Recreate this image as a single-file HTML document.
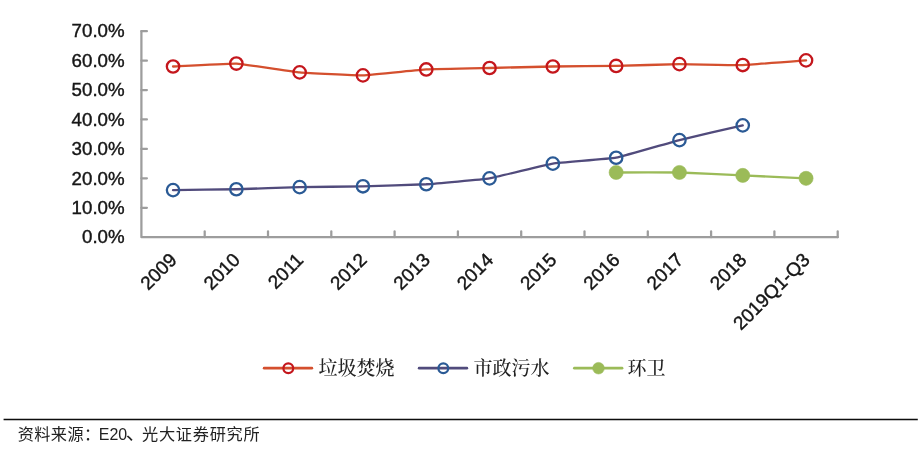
<!DOCTYPE html>
<html lang="zh-CN">
<head>
<meta charset="utf-8">
<title>毛利率对比</title>
<style>
html,body{margin:0;padding:0;background:#fff;}
body{width:924px;height:455px;overflow:hidden;}
svg{display:block;}
.lat{font-family:"Liberation Sans",sans-serif;font-size:18.70px;fill:#141414;stroke:#141414;stroke-width:0.4px;}
.xl{font-size:18.95px;}
.leg{font-family:"Liberation Serif","Noto Serif CJK SC",serif;font-size:19px;font-weight:500;fill:#222;}
.src{font-family:"Liberation Sans","Noto Sans CJK SC",sans-serif;font-size:16.2px;letter-spacing:0.4px;fill:#222;}
.src2{font-family:"Liberation Sans","Noto Sans CJK SC",sans-serif;font-size:16.2px;fill:#222;}
</style>
</head>
<body>
<svg width="924" height="455" viewBox="0 0 924 455">
<rect x="0" y="0" width="924" height="455" fill="#ffffff"/>
<defs><filter id="soft" x="0" y="0" width="924" height="455" filterUnits="userSpaceOnUse"><feGaussianBlur stdDeviation="0.38"/></filter></defs>
<g filter="url(#soft)">
<g fill="none" stroke="#9d9d9d" stroke-width="2.25" stroke-linejoin="round" stroke-linecap="round">
<path d="M141.40 31.20 L141.40 237.20 L837.70 237.20"/>
<path d="M141.40 207.77 h5.5"/>
<path d="M141.40 178.34 h5.5"/>
<path d="M141.40 148.91 h5.5"/>
<path d="M141.40 119.49 h5.5"/>
<path d="M141.40 90.06 h5.5"/>
<path d="M141.40 60.63 h5.5"/>
<path d="M141.40 31.20 h5.5"/>
<path d="M204.70 237.20 v-5.8"/>
<path d="M268.00 237.20 v-5.8"/>
<path d="M331.30 237.20 v-5.8"/>
<path d="M394.60 237.20 v-5.8"/>
<path d="M457.90 237.20 v-5.8"/>
<path d="M521.20 237.20 v-5.8"/>
<path d="M584.50 237.20 v-5.8"/>
<path d="M647.80 237.20 v-5.8"/>
<path d="M711.10 237.20 v-5.8"/>
<path d="M774.40 237.20 v-5.8"/>
<path d="M837.70 237.20 v-5.8"/>
</g>
<g class="lat" text-anchor="end">
<text x="124.6" y="243.40">0.0%</text>
<text x="124.6" y="213.97">10.0%</text>
<text x="124.6" y="184.54">20.0%</text>
<text x="124.6" y="155.11">30.0%</text>
<text x="124.6" y="125.69">40.0%</text>
<text x="124.6" y="96.26">50.0%</text>
<text x="124.6" y="66.83">60.0%</text>
<text x="124.6" y="37.40">70.0%</text>
</g>
<g class="lat xl" text-anchor="end">
<text transform="translate(177.95 261.10) rotate(-45)">2009</text>
<text transform="translate(241.25 261.10) rotate(-45)">2010</text>
<text transform="translate(304.55 261.10) rotate(-45)">2011</text>
<text transform="translate(367.85 261.10) rotate(-45)">2012</text>
<text transform="translate(431.15 261.10) rotate(-45)">2013</text>
<text transform="translate(494.45 261.10) rotate(-45)">2014</text>
<text transform="translate(557.75 261.10) rotate(-45)">2015</text>
<text transform="translate(621.05 261.10) rotate(-45)">2016</text>
<text transform="translate(684.35 261.10) rotate(-45)">2017</text>
<text transform="translate(747.65 261.10) rotate(-45)">2018</text>
<text transform="translate(810.95 261.10) rotate(-45)">2019Q1-Q3</text>
</g>
<path d="M616.15 172.46 C619.32 172.46 673.12 172.31 679.45 172.46 C685.78 172.60 736.42 175.11 742.75 175.40 C749.08 175.69 802.89 178.20 806.05 178.34" fill="none" stroke="#9bbb59" stroke-width="2.40" stroke-linecap="round" stroke-linejoin="round"/>
<g fill="#9bbb59" stroke="#9bbb59" stroke-width="0.60">
<circle cx="616.15" cy="172.46" r="7.05"/>
<circle cx="679.45" cy="172.46" r="7.05"/>
<circle cx="742.75" cy="175.40" r="7.05"/>
<circle cx="806.05" cy="178.34" r="7.05"/>
</g>
<path d="M173.05 190.11 C176.22 190.07 230.02 189.38 236.35 189.23 C242.68 189.08 293.32 187.32 299.65 187.17 C305.98 187.02 356.62 186.44 362.95 186.29 C369.28 186.14 419.92 184.63 426.25 184.23 C432.58 183.83 483.22 179.37 489.55 178.34 C495.88 177.31 546.52 164.66 552.85 163.63 C559.18 162.60 609.82 158.92 616.15 157.74 C622.48 156.57 673.12 141.70 679.45 140.09 C685.78 138.47 739.59 126.11 742.75 125.37" fill="none" stroke="#514b7c" stroke-width="2.30" stroke-linecap="round" stroke-linejoin="round"/>
<g fill="none" stroke="#2c5a95" stroke-width="2.30">
<circle cx="173.05" cy="190.11" r="6.20"/>
<circle cx="236.35" cy="189.23" r="6.20"/>
<circle cx="299.65" cy="187.17" r="6.20"/>
<circle cx="362.95" cy="186.29" r="6.20"/>
<circle cx="426.25" cy="184.23" r="6.20"/>
<circle cx="489.55" cy="178.34" r="6.20"/>
<circle cx="552.85" cy="163.63" r="6.20"/>
<circle cx="616.15" cy="157.74" r="6.20"/>
<circle cx="679.45" cy="140.09" r="6.20"/>
<circle cx="742.75" cy="125.37" r="6.20"/>
</g>
<path d="M173.05 66.51 C176.22 66.37 230.02 63.28 236.35 63.57 C242.68 63.87 293.32 71.81 299.65 72.40 C305.98 72.99 356.62 75.49 362.95 75.34 C369.28 75.20 419.92 69.82 426.25 69.46 C432.58 69.09 483.22 68.13 489.55 67.99 C495.88 67.84 546.52 66.62 552.85 66.51 C559.18 66.41 609.82 66.04 616.15 65.93 C622.48 65.81 673.12 64.20 679.45 64.16 C685.78 64.12 736.42 65.23 742.75 65.04 C749.08 64.85 802.89 60.57 806.05 60.33" fill="none" stroke="#d44f2d" stroke-width="2.30" stroke-linecap="round" stroke-linejoin="round"/>
<g fill="none" stroke="#c4161c" stroke-width="2.30">
<circle cx="173.05" cy="66.51" r="6.20"/>
<circle cx="236.35" cy="63.57" r="6.20"/>
<circle cx="299.65" cy="72.40" r="6.20"/>
<circle cx="362.95" cy="75.34" r="6.20"/>
<circle cx="426.25" cy="69.46" r="6.20"/>
<circle cx="489.55" cy="67.99" r="6.20"/>
<circle cx="552.85" cy="66.51" r="6.20"/>
<circle cx="616.15" cy="65.93" r="6.20"/>
<circle cx="679.45" cy="64.16" r="6.20"/>
<circle cx="742.75" cy="65.04" r="6.20"/>
<circle cx="806.05" cy="60.33" r="6.20"/>
</g>
<path d="M264.20 368.20 h47.6" fill="none" stroke="#d44f2d" stroke-width="2.8" stroke-linecap="round"/>
<circle cx="288.30" cy="368.20" r="4.90" fill="none" stroke="#c4161c" stroke-width="2.20"/>
<text class="leg" x="318.40" y="374.80">垃圾焚烧</text>
<path d="M419.20 368.20 h47.6" fill="none" stroke="#514b7c" stroke-width="2.8" stroke-linecap="round"/>
<circle cx="443.30" cy="368.20" r="4.90" fill="none" stroke="#2c5a95" stroke-width="2.20"/>
<text class="leg" x="473.40" y="374.80">市政污水</text>
<path d="M574.40 368.20 h47.6" fill="none" stroke="#9bbb59" stroke-width="2.8" stroke-linecap="round"/>
<circle cx="598.50" cy="368.20" r="5.80" fill="#9bbb59" stroke="#9bbb59" stroke-width="0.60"/>
<text class="leg" x="627.40" y="374.80">环卫</text>
<path d="M3.6 419.4 H917.8" stroke="#111" stroke-width="1.5" fill="none"/>
<text class="src" x="17.7" y="440.3">资料来源：</text>
<text class="src2" x="98.8" y="440.3" style="font-size:17px" textLength="28.4" lengthAdjust="spacingAndGlyphs">E20</text>
<text class="src2" x="125.8" y="440.1" style="font-size:20px">、</text>
<text class="src" x="142.1" y="440.3" style="letter-spacing:0.7px">光大证券研究所</text>
</g>
</svg>
</body>
</html>
